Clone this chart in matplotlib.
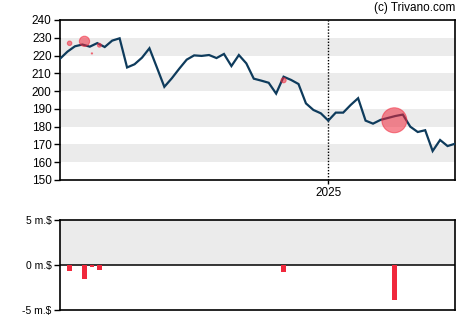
import matplotlib
matplotlib.use("Agg")
import matplotlib.pyplot as plt
import pandas as pd

plt.rcParams['font.family'] = ['Liberation Sans', 'DejaVu Sans']

# Weekly closing prices
start_date = "2024-04-24"
prices = [218.2, 222.2, 225.2, 226.2, 225.0, 227.0, 224.8, 228.4, 229.7, 213.3,
          215.1, 218.8, 224.1, 213.3, 202.4, 207.2, 212.6, 217.7, 220.1, 219.8,
          220.3, 218.6, 220.9, 214.1, 220.3, 215.6, 207.0, 205.9, 204.7, 198.6,
          208.1, 206.3, 204.0, 193.1, 189.4, 187.5, 183.4, 187.9, 187.9, 192.2,
          196.0, 183.4, 181.7, 183.8, 184.9, 186.0, 186.8, 180.0, 177.0, 178.0,
          166.3, 172.5, 169.1, 170.4]
dates = pd.date_range(start_date, periods=len(prices), freq="7D")

# Insider transactions: date, price, value (million $)
trade_dates = pd.to_datetime(["2024-05-03", "2024-05-17", "2024-05-24",
                              "2024-05-31", "2024-11-20", "2025-03-04"])
trade_prices = [226.9, 228.0, 221.2, 225.8, 206.1, 183.6]
trade_values = [-0.7, -1.6, -0.19, -0.6, -0.8, -3.9]

price_ticks = [150, 160, 170, 180, 190, 200, 210, 220, 230, 240]
value_ticks = [-5, 0, 5]
value_labels = [r"-5 m.\$", r"0 m.\$", r"5 m.\$"]
year_mark = pd.Timestamp("2025-01-01")

W, H = 470, 325
fig = plt.figure(figsize=(W / 100, H / 100), dpi=100)

ax = fig.add_axes([60 / W, (H - 180) / H, 395 / W, 160 / H])
ax2 = fig.add_axes([60 / W, (H - 310) / H, 395 / W, 90 / H])

band = "#ebebeb"
line_col = "#0e3b5c"
red = "#f0283c"

# Price panel
ax.set_xlim(dates[0], dates[-1])
ax.set_ylim(150, 240)
for lo in (160, 180, 200, 220):
    ax.axhspan(lo, lo + 10, color=band, lw=0, zorder=0)
ax.axvline(year_mark, color="black", lw=1, ls=(0, (1, 1.2)), zorder=1)
ax.plot(dates, prices, color=line_col, lw=1.6, zorder=3, solid_joinstyle="miter")

px_per_pt = 100 / 72
radii_px = [3.2 * abs(v) for v in trade_values]
sizes = [(2 * r / px_per_pt) ** 2 for r in radii_px]
ax.scatter(trade_dates, trade_prices, s=sizes, color=red, alpha=0.55,
           edgecolors=red, linewidths=0.8, zorder=4)

ax.set_yticks(price_ticks)
ax.set_xticks([year_mark])
ax.set_xticklabels(["2025"])
ax.tick_params(axis="y", labelsize=8.5, length=4, width=1, colors="black", pad=2)
ax.tick_params(axis="x", labelsize=8.5, length=3, width=1, colors="black", pad=2)
for s in ax.spines.values():
    s.set_linewidth(1.2)

fig.text(455 / W, (H - 8) / H, "(c) Trivano.com", ha="right", va="center",
         fontsize=8.5, color="black")

# Insider value panel
ax2.set_xlim(dates[0], dates[-1])
ax2.set_ylim(-5, 5)
ax2.axhspan(0, 5, color=band, lw=0, zorder=0)
ax2.axhline(0, color="black", lw=1.1, zorder=2)
ax2.bar(trade_dates, trade_values, width=4.4, color=red, zorder=3)
ax2.set_xticks([])
ax2.set_yticks(value_ticks)
ax2.set_yticklabels(value_labels)
ax2.tick_params(axis="y", labelsize=7.5, length=4, width=1, colors="black", pad=2)
for s in ax2.spines.values():
    s.set_linewidth(1.2)

fig.savefig("out.png", dpi=100)
